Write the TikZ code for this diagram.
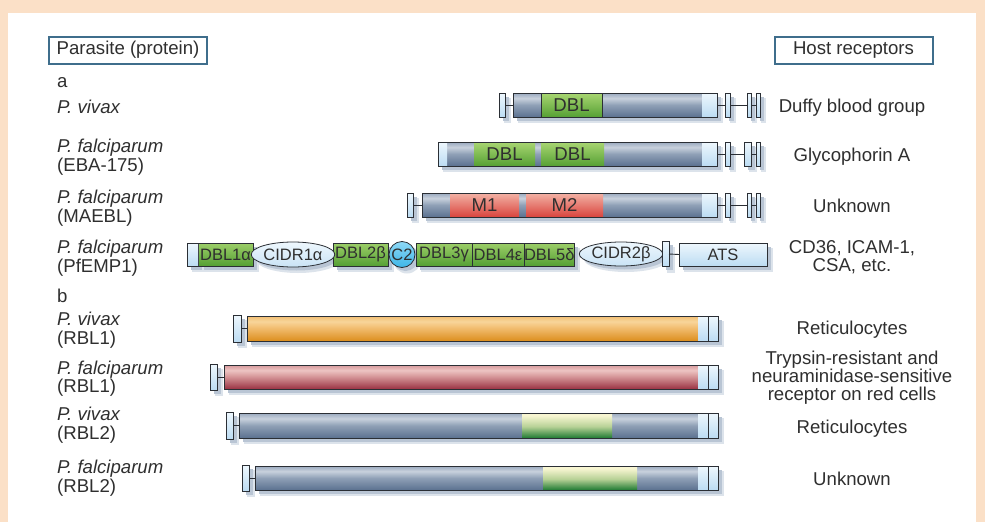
\documentclass[tikz,border=0pt]{standalone}
\usepackage{fontspec}
\setmainfont{Liberation Sans}
\usetikzlibrary{shapes.geometric}

\pgfdeclarelayer{paper}
\pgfdeclarelayer{shadowlayer}
\pgfsetlayers{paper,shadowlayer,main}

\definecolor{peach}{HTML}{FBE0C7}
\definecolor{framecol}{HTML}{3F6E8C}
\definecolor{ink}{HTML}{2F2F2F}
\definecolor{edgecol}{HTML}{2B2F35}
\definecolor{shadowcol}{HTML}{B9C5D4}
\definecolor{shadowsoft}{HTML}{DCE3EB}
\definecolor{steelT}{HTML}{9AA9BE}
\definecolor{steelL}{HTML}{C8D1DD}
\definecolor{steelM}{HTML}{8FA0B6}
\definecolor{steelB}{HTML}{5B7190}
\definecolor{iceT}{HTML}{EEF7FD}
\definecolor{iceB}{HTML}{BCDCF3}
\definecolor{leafT}{HTML}{A9D672}
\definecolor{leafB}{HTML}{55A034}
\definecolor{coralT}{HTML}{F3B3A6}
\definecolor{coralB}{HTML}{D9443D}
\definecolor{amberT}{HTML}{F2BE72}
\definecolor{amberL}{HTML}{F8D59A}
\definecolor{amberB}{HTML}{DC8E1D}
\definecolor{roseT}{HTML}{D7999B}
\definecolor{roseL}{HTML}{EDC4C3}
\definecolor{roseB}{HTML}{9A3243}
\definecolor{mossT}{HTML}{F8F6D2}
\definecolor{mossM}{HTML}{B7D196}
\definecolor{mossB}{HTML}{1F7A33}
\definecolor{cyanT}{HTML}{8ED8F5}
\definecolor{cyanB}{HTML}{3DB6E8}

% vertical shadings (0bp = bottom of the shape at 25bp, top at 75bp)
\pgfdeclareverticalshading{steel}{100bp}{color(0bp)=(steelB); color(25bp)=(steelB); color(50bp)=(steelM); color(64bp)=(steelL); color(75bp)=(steelT); color(100bp)=(steelT)}
\pgfdeclareverticalshading{amber}{100bp}{color(0bp)=(amberB); color(25bp)=(amberB); color(52bp)=(amberT); color(64bp)=(amberL); color(75bp)=(amberT); color(100bp)=(amberT)}
\pgfdeclareverticalshading{rose}{100bp}{color(0bp)=(roseB); color(25bp)=(roseB); color(52bp)=(roseT); color(64bp)=(roseL); color(75bp)=(roseT); color(100bp)=(roseT)}
\pgfdeclareverticalshading{moss}{100bp}{color(0bp)=(mossB); color(25bp)=(mossB); color(48bp)=(mossM); color(70bp)=(mossT); color(100bp)=(mossT)}

\tikzset{
  txt/.style={font=\fontsize{18.6}{19}\selectfont, text=ink, inner sep=0pt},
  lbl/.style={txt, anchor=base west},
  species/.style={lbl, font=\fontsize{18.6}{19}\selectfont\itshape},
  rlbl/.style={txt, anchor=base},
  headbox/.style={txt, draw=framecol, line width=2pt, fill=white, minimum width=158pt, minimum height=27pt, anchor=north west},
  piece/.style={anchor=north west, inner sep=0pt, outer sep=0pt, minimum height=24pt},
  edge/.style={draw=edgecol, line width=0.8pt},
  link/.style={draw=edgecol, line width=0.9pt},
  % soft box-shaped drop shadow, placed on the layer under the drawing
  shadowed/.style={append after command={\pgfextra{\begin{pgfonlayer}{shadowlayer}
      \fill[shadowsoft] ([shift={(5pt,-5pt)}]\tikzlastnode.north west) rectangle ([shift={(6pt,-6pt)}]\tikzlastnode.south east);
      \fill[shadowcol] ([shift={(3.5pt,-3.5pt)}]\tikzlastnode.north west) rectangle ([shift={(3.5pt,-3.5pt)}]\tikzlastnode.south east);
    \end{pgfonlayer}}}},
  % round drop shadow for ellipses and circles
  roundshadow/.style 2 args={append after command={\pgfextra{\begin{pgfonlayer}{shadowlayer}
      \fill[shadowsoft] ([shift={(5pt,-5pt)}]\tikzlastnode.center) ellipse [x radius=#1+1pt, y radius=#2+1pt];
      \fill[shadowcol] ([shift={(3.5pt,-3.5pt)}]\tikzlastnode.center) ellipse [x radius=#1, y radius=#2];
    \end{pgfonlayer}}}},
  steelbar/.style={piece, edge, shadowed, shade, shading=steel},
  amberbar/.style={piece, edge, shadowed, shade, shading=amber},
  rosebar/.style={piece, edge, shadowed, shade, shading=rose},
  capbox/.style={piece, edge, shadowed, top color=iceT, bottom color=iceB},
  ice/.style={piece, top color=iceT, bottom color=iceB},
  leaf/.style={piece, txt, top color=leafT, bottom color=leafB},
  coral/.style={piece, txt, top color=coralT, bottom color=coralB},
  mossband/.style={piece, shade, shading=moss},
  small/.style={font=\fontsize{16.5}{17}\selectfont},
  emp/.style={piece, small, text=ink, edge, shadowed, minimum height=23pt, top color=leafT!85!leafB, bottom color=leafB},
  cidr/.style={ellipse, edge, inner sep=0pt, small, text=ink, minimum width=82pt, minimum height=25pt, top color=iceT, bottom color=iceB!80},
}

\begin{document}
\begin{tikzpicture}[x=1pt, y=-1pt]
\useasboundingbox (0,0) rectangle (985,522);
\begin{pgfonlayer}{paper}
\fill[peach] (0,0) rectangle (985,522);
\fill[white] (8,13) rectangle (976,522);
\end{pgfonlayer}

% column headers
\node[headbox] (hpar) at (48,35.5) {Parasite (protein)};
\node[headbox] (hhost) at (773.5,35.5) {Host receptors};

% ---------------- section a ----------------
\node[lbl] (la) at (57,87) {a};

% P. vivax, Duffy binding protein
\node[species] (a1s) at (57,113) {P. vivax};
\node[capbox, minimum width=6pt] (a1c0) at (499,93) {};
\node[steelbar, minimum width=204pt] (a1bar) at (513,93) {};
\node[leaf, edge, minimum width=61pt] (a1dbl) at (541,93) {DBL};
\node[ice, minimum width=15pt] (a1end) at (702,93) {};
\draw[edge] (a1bar.north west) rectangle (a1bar.south east);
\node[capbox, minimum width=5pt] (a1c1) at (725,93) {};
\node[capbox, minimum width=4pt] (a1c2) at (747,93) {};
\node[capbox, minimum width=4pt] (a1c3) at (756,93) {};
\draw[link] (a1c0.east) -- (a1bar.west);
\draw[link] (a1bar.east) -- (a1c1.west);
\draw[link] (a1c1.east) -- (a1c2.west);
\draw[link] (a1c2.east) -- (a1c3.west);
\node[rlbl] (a1r) at (852,112) {Duffy blood group};

% P. falciparum EBA-175
\node[species] (a2s) at (57,152) {P. falciparum};
\node[lbl] (a2p) at (57,171) {(EBA-175)};
\node[steelbar, minimum width=279pt] (a2bar) at (438,142) {};
\node[ice, minimum width=9pt] (a2beg) at (438,142) {};
\node[leaf, minimum width=61pt] (a2d1) at (474,142) {DBL};
\node[leaf, minimum width=63pt] (a2d2) at (541,142) {DBL};
\node[ice, minimum width=15pt] (a2end) at (702,142) {};
\draw[edge] (a2bar.north west) rectangle (a2bar.south east);
\node[capbox, minimum width=5pt] (a2c1) at (725,142) {};
\node[capbox, minimum width=7pt] (a2c2) at (744,142) {};
\node[capbox, minimum width=4pt] (a2c3) at (756,142) {};
\draw[link] (a2bar.east) -- (a2c1.west);
\draw[link] (a2c1.east) -- (a2c2.west);
\draw[link] (a2c2.east) -- (a2c3.west);
\node[rlbl] (a2r) at (852,161) {Glycophorin A};

% P. falciparum MAEBL
\node[species] (a3s) at (57,203) {P. falciparum};
\node[lbl] (a3p) at (57,222) {(MAEBL)};
\node[capbox, minimum width=6pt] (a3c0) at (407,193) {};
\node[steelbar, minimum width=295pt] (a3bar) at (422,193) {};
\node[coral, minimum width=69pt] (a3m1) at (450,193) {M1};
\node[coral, minimum width=77pt] (a3m2) at (526,193) {M2};
\node[ice, minimum width=15pt] (a3end) at (702,193) {};
\draw[edge] (a3bar.north west) rectangle (a3bar.south east);
\node[capbox, minimum width=5pt] (a3c1) at (725,193) {};
\node[capbox, minimum width=4pt] (a3c2) at (747,193) {};
\node[capbox, minimum width=4pt] (a3c3) at (756,193) {};
\draw[link] (a3c0.east) -- (a3bar.west);
\draw[link] (a3bar.east) -- (a3c1.west);
\draw[link] (a3c1.east) -- (a3c2.west);
\draw[link] (a3c2.east) -- (a3c3.west);
\node[rlbl] (a3r) at (852,212) {Unknown};

% P. falciparum PfEMP1
\node[species] (a4s) at (57,253) {P. falciparum};
\node[lbl] (a4p) at (57,272) {(PfEMP1)};
\node[emp, minimum width=55pt] (e1) at (198,243) {DBL1α};
\node[ice, shadowed, minimum width=11pt, minimum height=23pt] (e1beg) at (187,243) {};
\draw[edge] (e1beg.north west) rectangle (e1.south east);
\node[emp, minimum width=55pt] (e2) at (333,243) {DBL2β};
\node[emp, minimum width=56pt] (e3) at (416,243) {DBL3γ};
\node[emp, minimum width=52pt] (e4) at (472,243) {DBL4ε};
\node[emp, minimum width=50pt] (e5) at (524,243) {DBL5δ};
\node[circle, edge, roundshadow={13pt}{13pt}, inner sep=0pt, minimum size=26pt, small, text=ink, top color=cyanT, bottom color=cyanB] (c2) at (402,254.5) {C2};
\node[cidr, roundshadow={41pt}{12.5pt}] (r1) at (293,254.5) {CIDR1α};
\node[cidr, roundshadow={41pt}{12pt}, minimum height=24pt] (r2) at (621,254) {CIDR2β};
\node[capbox, minimum width=7pt, minimum height=25pt] (a4cap) at (662,241.5) {};
\node[piece, edge, shadowed, small, text=ink, minimum width=88pt, minimum height=23pt, top color=iceT, bottom color=iceB] (ats) at (679,243) {ATS};
\draw[link] (a4cap.east) -- (ats.west);
\node[rlbl] (a4r1) at (852,253) {CD36, ICAM-1,};
\node[rlbl] (a4r2) at (852,271) {CSA, etc.};

% ---------------- section b ----------------
\node[lbl] (lb) at (57,302) {b};

% P. vivax RBL1
\node[species] (b1s) at (57,325) {P. vivax};
\node[lbl] (b1p) at (57,344) {(RBL1)};
\node[capbox, minimum width=8pt, minimum height=27pt] (b1c0) at (233,315) {};
\node[amberbar, minimum width=471pt, minimum height=25pt] (b1bar) at (247,316) {};
\node[ice, minimum width=10pt, minimum height=25pt] (b1e1) at (698,316) {};
\node[ice, edge, minimum width=10pt, minimum height=25pt] (b1e2) at (708,316) {};
\draw[edge] (b1bar.north west) rectangle (b1bar.south east);
\draw[link] (b1c0.east) -- (b1bar.west);
\node[rlbl] (b1r) at (852,334) {Reticulocytes};

% P. falciparum RBL1
\node[species] (b2s) at (57,374) {P. falciparum};
\node[lbl] (b2p) at (57,392) {(RBL1)};
\node[capbox, minimum width=7pt, minimum height=26pt] (b2c0) at (210,364) {};
\node[rosebar, minimum width=494pt] (b2bar) at (224,365) {};
\node[ice, minimum width=10pt] (b2e1) at (698,365) {};
\node[ice, edge, minimum width=10pt] (b2e2) at (708,365) {};
\draw[edge] (b2bar.north west) rectangle (b2bar.south east);
\draw[link] (b2c0.east) -- (b2bar.west);
\node[rlbl] (b2r1) at (852,364) {Trypsin-resistant and};
\node[rlbl] (b2r2) at (852,382) {neuraminidase-sensitive};
\node[rlbl] (b2r3) at (852,400) {receptor on red cells};

% P. vivax RBL2
\node[species] (b3s) at (57,420) {P. vivax};
\node[lbl] (b3p) at (57,439) {(RBL2)};
\node[capbox, minimum width=7pt, minimum height=27pt] (b3c0) at (226,412) {};
\node[steelbar, minimum width=479pt, minimum height=25pt] (b3bar) at (239,413) {};
\node[mossband, minimum width=90pt, minimum height=25pt] (b3g) at (522,413) {};
\node[ice, minimum width=10pt, minimum height=25pt] (b3e1) at (698,413) {};
\node[ice, edge, minimum width=10pt, minimum height=25pt] (b3e2) at (708,413) {};
\draw[edge] (b3bar.north west) rectangle (b3bar.south east);
\draw[link] (b3c0.east) -- (b3bar.west);
\node[rlbl] (b3r) at (852,433) {Reticulocytes};

% P. falciparum RBL2
\node[species] (b4s) at (57,473) {P. falciparum};
\node[lbl] (b4p) at (57,492) {(RBL2)};
\node[capbox, minimum width=7pt, minimum height=26pt] (b4c0) at (242,465) {};
\node[steelbar, minimum width=463pt] (b4bar) at (255,466) {};
\node[mossband, minimum width=94pt] (b4g) at (543,466) {};
\node[ice, minimum width=10pt] (b4e1) at (698,466) {};
\node[ice, edge, minimum width=10pt] (b4e2) at (708,466) {};
\draw[edge] (b4bar.north west) rectangle (b4bar.south east);
\draw[link] (b4c0.east) -- (b4bar.west);
\node[rlbl] (b4r) at (852,485) {Unknown};
\end{tikzpicture}
\end{document}
